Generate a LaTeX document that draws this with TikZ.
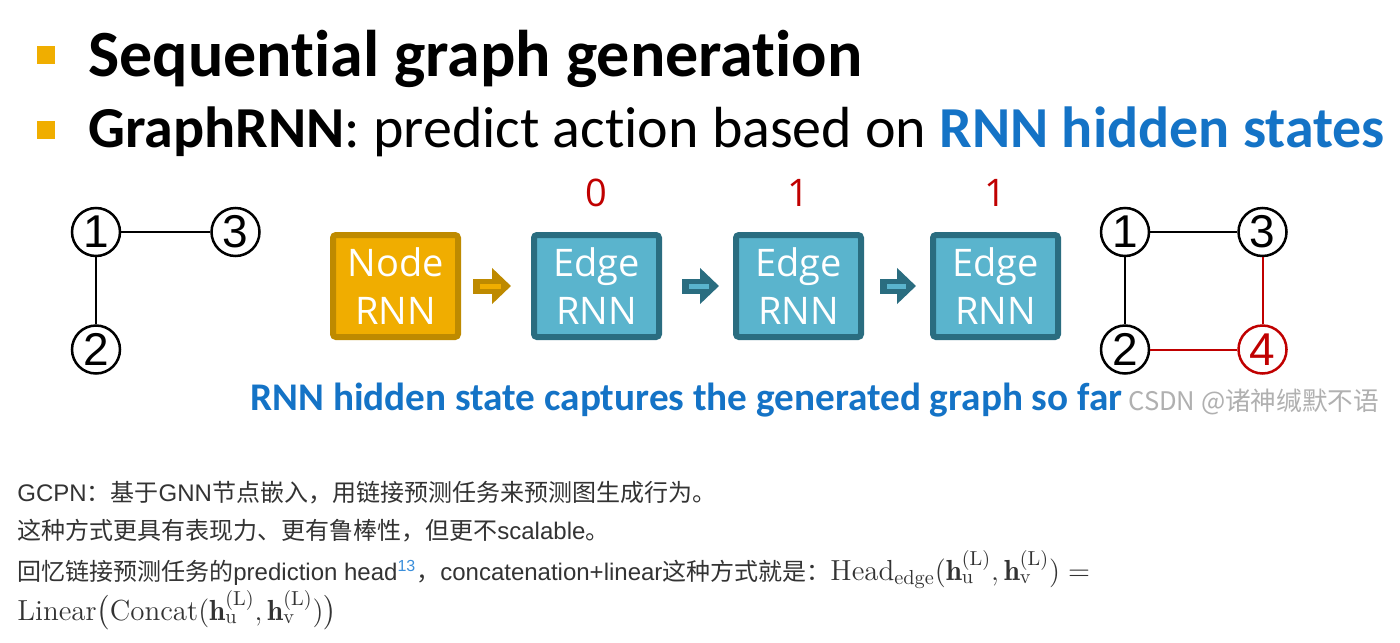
\documentclass[tikz,border=0pt]{standalone}
\usepackage{fontspec}
\usepackage{amsmath}
\usetikzlibrary{
  arrows.meta,
  positioning
}
\newfontfamily\calibfont[Ligatures=NoCommon]{Carlito}
\newfontfamily\boxfont{Open Sans}
\newfontfamily\helvfont{Liberation Sans}
\newfontfamily\cjkfont{Noto Sans CJK SC}
\newcommand{\zh}[1]{{\cjkfont #1}}
\newcommand{\mathsize}{\fontsize{14.5pt}{17pt}\selectfont}
\definecolor{grBullet}{HTML}{F0AE00}
\definecolor{grBlue}{HTML}{1473C6}
\definecolor{grRed}{HTML}{C00000}
\definecolor{grGold}{HTML}{F0AD00}
\definecolor{grGoldDark}{HTML}{BE8A00}
\definecolor{grTeal}{HTML}{5AB4CD}
\definecolor{grTealDark}{HTML}{2A6D80}
\definecolor{grText}{HTML}{333333}
\definecolor{grMark}{HTML}{B0B0B0}
\definecolor{grLink}{HTML}{3B8FDB}
\tikzset{
  rnnbox/.style={
    draw, line width=3pt, rounded corners=1.5pt, minimum width=62.5pt, minimum height=51pt,
    inner sep=0pt, text=white, align=center, font=\boxfont\fontsize{19pt}{24pt}\selectfont
  },
  nodernn/.style={rnnbox, fill=grGold, draw=grGoldDark},
  edgernn/.style={rnnbox, fill=grTeal, draw=grTealDark},
  gnode/.style={
    circle, draw, line width=1.25pt, minimum size=24pt, inner sep=0pt,
    font=\helvfont\fontsize{23pt}{23pt}\selectfont
  },
  newnode/.style={gnode, draw=grRed, text=grRed},
  gedge/.style={line width=1pt},
  newedge/.style={gedge, grRed},
  bit/.style={text=grRed, inner sep=0pt, font=\boxfont\fontsize{19pt}{19pt}\selectfont},
  rnnflow/.style n args={3}{
    line width=7.5pt, draw=#1Dark, -{Triangle[width=17.5pt, length=9.5pt]},
    shorten <=#2, shorten >=#3,
    postaction={draw=#1, line width=2.5pt, -, shorten <=#2+3.5pt, shorten >=#3+5pt}
  },
  headline/.style={anchor=base west, inner sep=0pt, font=\calibfont\fontsize{33pt}{36pt}\selectfont},
  subline/.style={anchor=base west, inner sep=0pt, font=\calibfont\fontsize{29pt}{32pt}\selectfont},
  caption/.style={anchor=base west, inner sep=0pt, text=grBlue, font=\calibfont\bfseries\fontsize{19.6pt}{22pt}\selectfont},
  wmark/.style={anchor=base west, inner sep=0pt, text=grMark, font=\cjkfont\fontsize{12.8pt}{14pt}\selectfont},
  para/.style={anchor=base west, inner sep=0pt, text=grText, font=\helvfont\fontsize{12pt}{14pt}\selectfont}
}
\begin{document}
\begin{tikzpicture}[x=0.5pt, y=-0.5pt]
  \useasboundingbox (0,0) rectangle (1400,642);
  \fill[white] (0,0) rectangle (1400,642);
  % headlines
  \fill[grBullet] (37,46) rectangle (55,64);
  \fill[grBullet] (37,121) rectangle (55,139);
  \node[headline] (title) at (88,76) {\bfseries Sequential graph generation};
  \node[subline] (sub) at (88,148) {\textbf{GraphRNN}: predict action based on \textbf{\color{grBlue}RNN hidden states}};
  % graph before
  \node[gnode] (a1) at (96,232) {1};
  \node[gnode, right=44.5pt of a1] (a3) {3};
  \node[gnode, below=33.5pt of a1] (a2) {2};
  \draw[gedge] (a1) -- (a3);
  \draw[gedge] (a1) -- (a2);
  % rnn chain
  \node[nodernn] (nrnn) at (395.5,286) {Node\\RNN};
  \node[edgernn, right=35pt of nrnn] (ernn1) {Edge\\RNN};
  \node[edgernn, right=35.5pt of ernn1] (ernn2) {Edge\\RNN};
  \node[edgernn, right=33pt of ernn2] (ernn3) {Edge\\RNN};
  \node[bit, above=12.5pt of ernn1] (bit1) {0};
  \node[bit, above=12.5pt of ernn2] (bit2) {1};
  \node[bit, above=12.5pt of ernn3] (bit3) {1};
  \draw[rnnflow={grGold}{6pt}{10pt}] (nrnn) -- (ernn1);
  \draw[rnnflow={grTeal}{10pt}{7pt}] (ernn1) -- (ernn2);
  \draw[rnnflow={grTeal}{8pt}{7pt}] (ernn2) -- (ernn3);
  % graph after
  \node[gnode] (b1) at (1125,232) {1};
  \node[gnode, right=43.5pt of b1] (b3) {3};
  \node[gnode, below=33.5pt of b1] (b2) {2};
  \node[newnode, right=43.5pt of b2] (b4) {4};
  \draw[gedge] (b1) -- (b3);
  \draw[gedge] (b1) -- (b2);
  \draw[newedge] (b3) -- (b4);
  \draw[newedge] (b2) -- (b4);
  % caption
  \node[caption] (cap) at (250,410) {RNN hidden state captures the generated graph so far};
  \node[wmark] (wm) at (1128,410) {CSDN @诸神缄默不语};
  % notes
  \node[para] (l1) at (17,501) {GCPN\zh{：基于}GNN\zh{节点嵌入，用链接预测任务来预测图生成行为。}};
  \node[para] (l2) at (17,539) {\zh{这种方式更具有表现力、更有鲁棒性，但更不}scalable\zh{。}};
  \node[para] (l3) at (17,580) {\zh{回忆链接预测任务的}prediction head\textsuperscript{\color{grLink}13}\zh{，}concatenation+linear\zh{这种方式就是：}\mathsize$\mathrm{Head}_{\mathrm{edge}}(\mathbf{h}_{\mathrm{u}}^{(\mathrm{L})},\mathbf{h}_{\mathrm{v}}^{(\mathrm{L})})=$};
  \node[para] (l4) at (17,620) {\mathsize$\mathrm{Linear}\bigl(\mathrm{Concat}(\mathbf{h}_{\mathrm{u}}^{(\mathrm{L})},\mathbf{h}_{\mathrm{v}}^{(\mathrm{L})})\bigr)$};
\end{tikzpicture}
\end{document}
